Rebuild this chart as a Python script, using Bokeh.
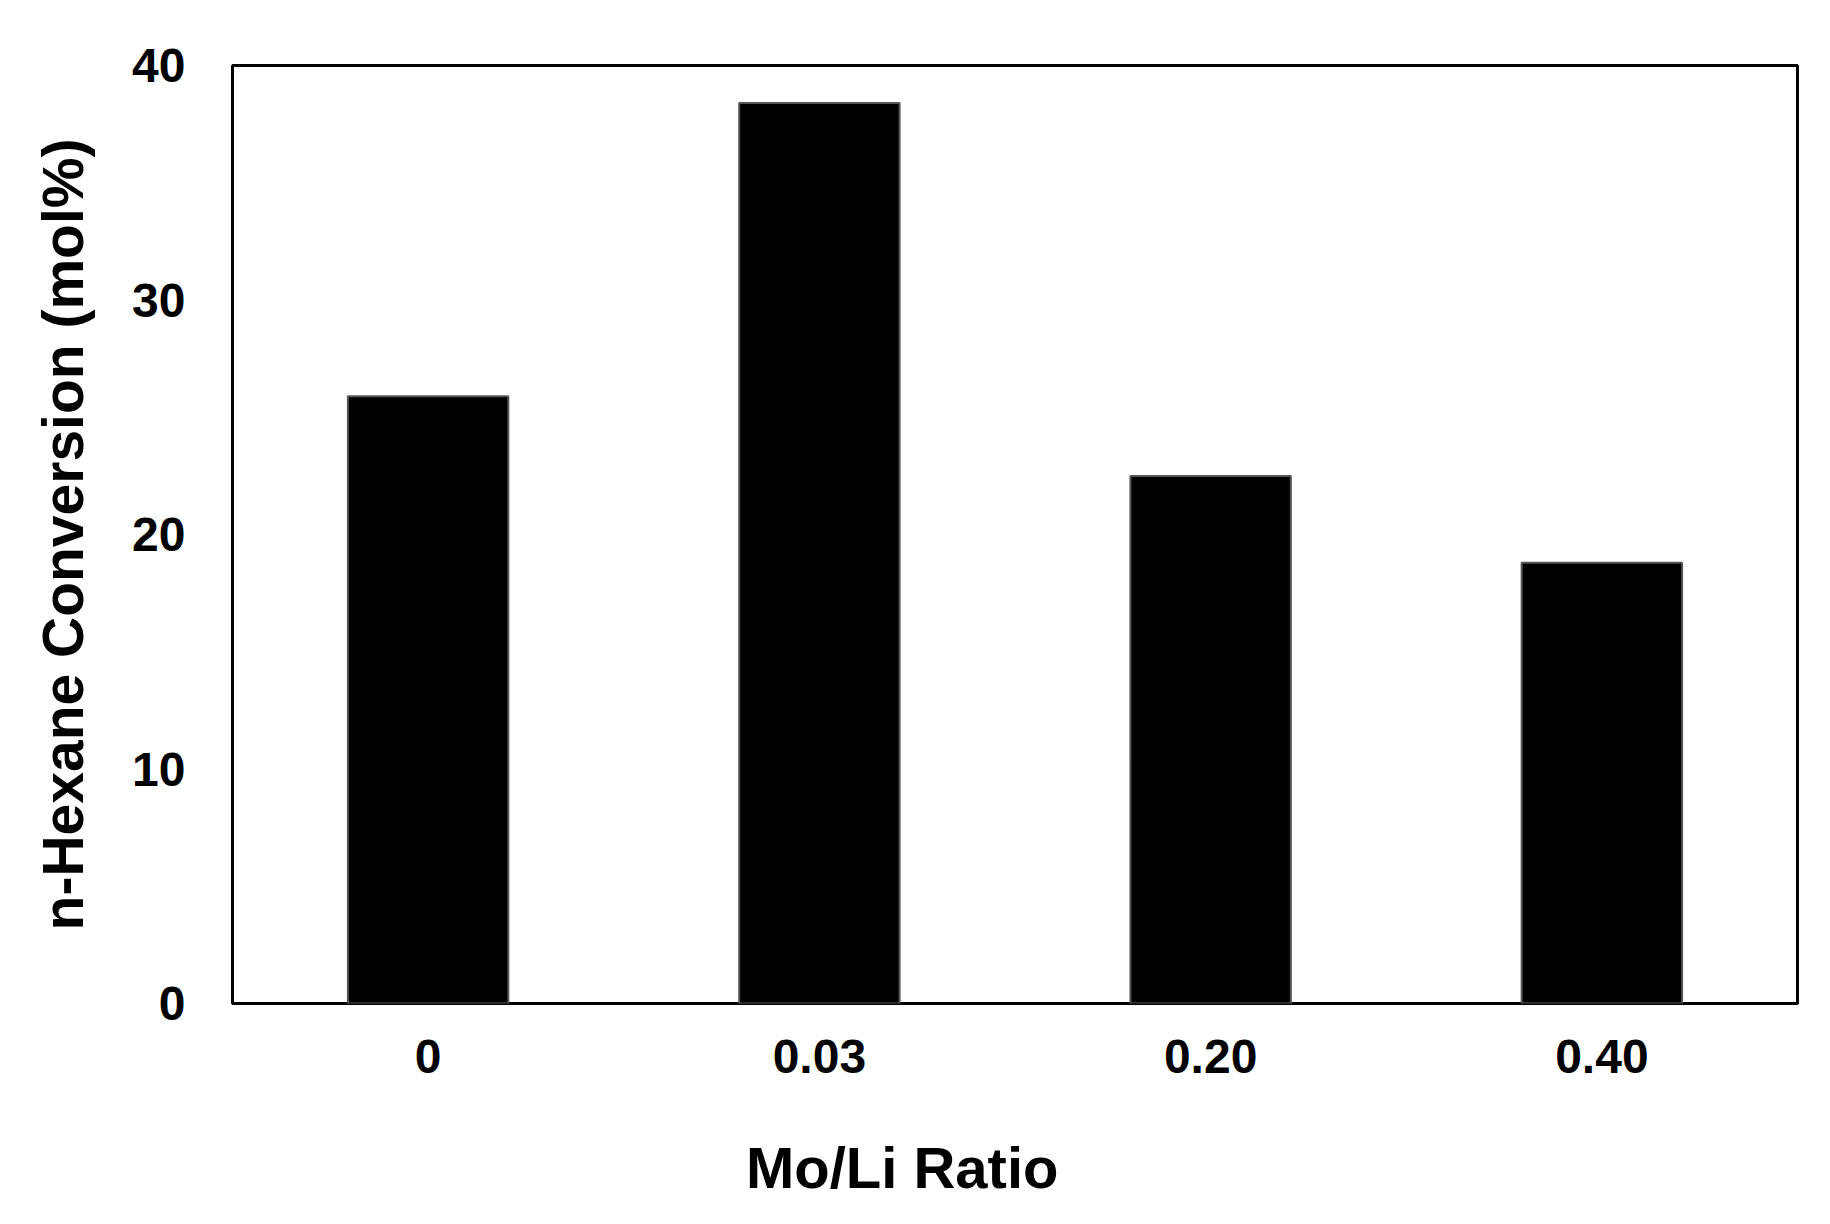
from bokeh.plotting import figure
from bokeh.models import FixedTicker, FactorRange, Range1d
from bokeh.embed import file_html
from bokeh.resources import INLINE

ratios = ["0", "0.03", "0.20", "0.40"]
conversion = [25.9, 38.4, 22.5, 18.8]
y_ticks = [0, 10, 20, 30, 40]

FONT = "Liberation Sans"

p = figure(x_range=FactorRange(*ratios), y_range=Range1d(0, 40),
           width=1814, height=1208, output_backend="svg", toolbar_location=None,
           min_border_left=232, min_border_top=65, min_border_right=17,
           min_border_bottom=205)
p.title.visible = False

p.vbar(x=ratios, top=conversion, width=0.41,
       fill_color="black", line_color="#555555", line_width=2)

p.xgrid.visible = False
p.ygrid.visible = False
p.outline_line_color = "black"
p.outline_line_width = 3

for ax in (p.xaxis[0], p.yaxis[0]):
    ax.axis_line_color = None
    ax.major_tick_line_color = None
    ax.minor_tick_line_color = None
    ax.major_tick_out = 0
    ax.major_label_text_font = FONT
    ax.major_label_text_font_style = "bold"
    ax.major_label_text_font_size = "48px"
    ax.major_label_text_color = "black"
    ax.axis_label_text_font = FONT
    ax.axis_label_text_font_style = "bold"
    ax.axis_label_text_color = "black"

p.xaxis.major_label_standoff = 36
p.yaxis.major_label_standoff = 47
p.yaxis.ticker = FixedTicker(ticks=y_ticks)

p.yaxis.axis_label = "n-Hexane Conversion (mol%)"
p.yaxis.axis_label_text_font_size = "57px"
p.yaxis.axis_label_standoff = 34

# the x title sits left of the frame centre in the original;
# trailing no-break spaces push the centred label over
p.xaxis.axis_label = "Mo/Li Ratio" + "\u00a0" * 14
p.xaxis.axis_label_text_font_size = "58px"
p.xaxis.axis_label_standoff = 59

open("out.html", "w").write(file_html(p, INLINE))
